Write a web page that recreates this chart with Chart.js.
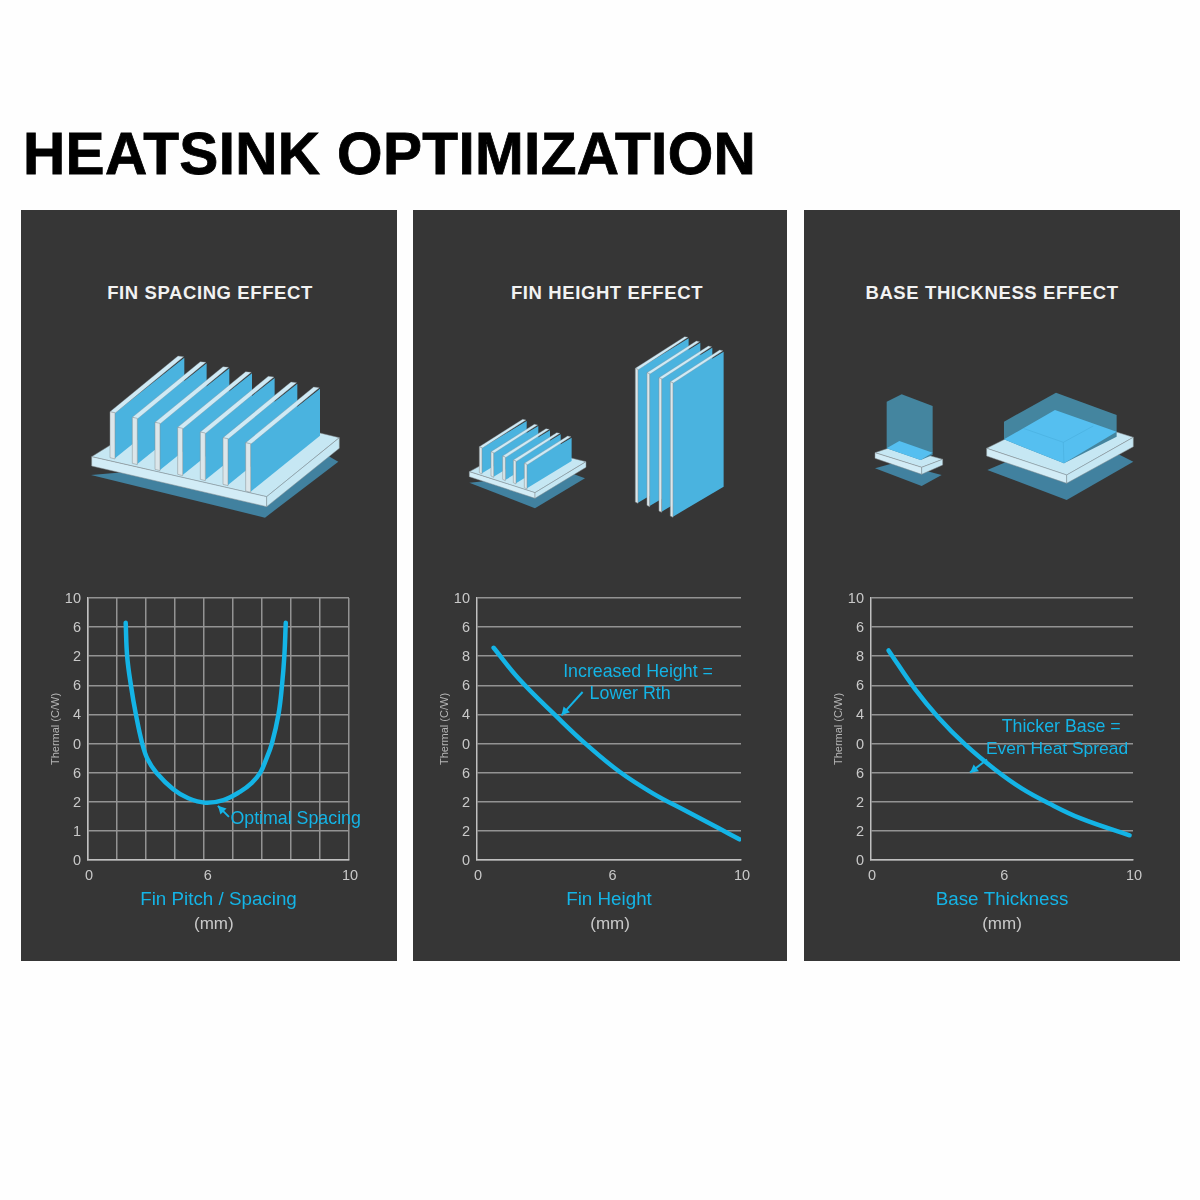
<!DOCTYPE html>
<html>
<head>
<meta charset="utf-8">
<title>Heatsink Optimization</title>
<script src="https://cdn.jsdelivr.net/npm/chart.js@4"></script>
<style>
  html, body { margin: 0; background: #fefefe; }
  #page { position: relative; width: 1200px; height: 1200px; overflow: hidden; font-family: "Liberation Sans", Arial, sans-serif; }
  h1 { position: absolute; left: 23px; top: 120px; margin: 0; font-size: 58.5px; line-height: 68px; letter-spacing: 0.35px; font-weight: bold; color: #000; white-space: nowrap; -webkit-text-stroke: 0.8px #000; }
  .panel { position: absolute; top: 210px; height: 751px; background: #363636; }
  .panelTitle { position: absolute; top: 282px; text-align: center; font-size: 18.5px; line-height: 22px; letter-spacing: 0.6px; font-weight: bold; color: #f2f2f2; white-space: nowrap; }
  canvas { position: absolute; top: 580px; }
  svg { position: absolute; left: 0; top: 0; }
</style>
</head>
<body>
<div id="page">
  <h1>HEATSINK OPTIMIZATION</h1>
  <div class="panel" style="left:21px;width:376px"></div>
  <div class="panel" style="left:413px;width:374px"></div>
  <div class="panel" style="left:804px;width:376px"></div>
  <div class="panelTitle" style="left:21px;width:378px">FIN SPACING EFFECT</div>
  <div class="panelTitle" style="left:413px;width:388px">FIN HEIGHT EFFECT</div>
  <div class="panelTitle" style="left:804px;width:376px">BASE THICKNESS EFFECT</div>
  <svg id="art" width="1200" height="1200"></svg>
  <canvas id="chart1" width="376" height="381" style="left:21px"></canvas>
  <canvas id="chart2" width="374" height="381" style="left:413px"></canvas>
  <canvas id="chart3" width="376" height="381" style="left:804px"></canvas>
</div>
<script>
// y axis reads bottom to top, positions on it are the grid rows 0-9
const spacingYLabels = ["0", "1", "2", "6", "0", "4", "6", "2", "6", "10"];
const heightYLabels = ["0", "2", "2", "6", "0", "4", "6", "8", "6", "10"];
const baseYLabels = ["0", "2", "2", "6", "0", "4", "6", "8", "6", "10"];

// the "6" sits a little right of its grid line in the first chart
const spacingXTicks = [0, 1, 2, 3, 4, 4.1, 5, 6, 7, 8, 9];
const spacingXLabels = ["0", "", "", "", "", "6", "", "", "", "", "10"];
const heightXTicks = [0, 5.1, 10];
const heightXLabels = ["0", "6", "10"];
const baseXTicks = [0, 5.05, 10];
const baseXLabels = ["0", "6", "10"];

const spacingX = [1.3, 1.35, 1.48, 1.65, 1.87, 2.06, 2.36, 2.94, 3.46, 4.04, 4.67, 5.25, 5.65, 5.94, 6.14, 6.34, 6.57, 6.69, 6.77, 6.82];
const spacingY = [8.15, 7.0, 6.0, 5.01, 4.0, 3.45, 3.0, 2.43, 2.12, 1.97, 2.06, 2.35, 2.65, 3.0, 3.45, 4.0, 5.01, 6.0, 7.0, 8.15];
const heightX = [0.63, 1.61, 3.06, 4.14, 5.4, 6.66, 7.92, 9.18, 9.94];
const heightY = [7.29, 6.2, 4.89, 3.97, 3.03, 2.29, 1.68, 1.08, 0.71];
const baseX = [0.67, 1.69, 2.58, 3.59, 4.73, 5.75, 6.76, 8.03, 9.87];
const baseY = [7.2, 5.86, 4.89, 3.97, 3.11, 2.46, 1.96, 1.42, 0.85];

const BLUE = "#14b4e6";
const LIGHT = "#c9c9c9";
const GRID = "#939393";
const FONT = '"Liberation Sans", Arial, sans-serif';

// text and arrows that sit on top of a chart, placed in axis units
function notesPlugin(notes) {
  return {
    id: "notes",
    afterDatasetsDraw(chart) {
      const ctx = chart.ctx;
      const sx = chart.scales.x;
      const sy = chart.scales.y;
      ctx.save();
      ctx.textAlign = "center";
      ctx.textBaseline = "middle";
      notes.texts.forEach((t) => {
        ctx.font = t.size + "px " + FONT;
        ctx.fillStyle = t.color;
        ctx.fillText(t.text, sx.getPixelForValue(t.x), sy.getPixelForValue(t.y) + 1);
      });
      notes.arrows.forEach((a) => {
        const x1 = sx.getPixelForValue(a.from[0]);
        const y1 = sy.getPixelForValue(a.from[1]);
        const x2 = sx.getPixelForValue(a.to[0]);
        const y2 = sy.getPixelForValue(a.to[1]);
        const ang = Math.atan2(y2 - y1, x2 - x1);
        ctx.strokeStyle = BLUE;
        ctx.fillStyle = BLUE;
        ctx.lineWidth = 2;
        ctx.beginPath();
        ctx.moveTo(x1, y1);
        ctx.lineTo(x2, y2);
        ctx.stroke();
        ctx.beginPath();
        ctx.moveTo(x2, y2);
        ctx.lineTo(x2 - 9 * Math.cos(ang - 0.5), y2 - 9 * Math.sin(ang - 0.5));
        ctx.lineTo(x2 - 9 * Math.cos(ang + 0.5), y2 - 9 * Math.sin(ang + 0.5));
        ctx.closePath();
        ctx.fill();
      });
      ctx.restore();
    },
  };
}

function makeChart(id, cfg) {
  new Chart(document.getElementById(id), {
    type: "line",
    data: {
      datasets: [
        {
          data: cfg.xs.map((x, i) => ({ x: x, y: cfg.ys[i] })),
          borderColor: BLUE,
          borderWidth: 4.5,
          borderCapStyle: "round",
          borderJoinStyle: "round",
          pointRadius: 0,
          tension: 0.4,
          fill: false,
        },
      ],
    },
    options: {
      responsive: false,
      animation: false,
      layout: { padding: { left: cfg.padLeft, right: cfg.padRight, top: 18, bottom: 0 } },
      plugins: { legend: { display: false }, tooltip: { enabled: false } },
      scales: {
        x: {
          type: "linear",
          min: cfg.xMin,
          max: cfg.xMax,
          afterBuildTicks: (scale) => {
            scale.ticks = cfg.xTicks.map((v) => ({ value: v }));
          },
          afterFit: (scale) => {
            scale.height = 101;
            scale.paddingLeft = 0;
            scale.paddingRight = 0;
          },
          grid: {
            display: cfg.xGrid,
            color: (c) => (Number.isInteger(c.tick.value) ? GRID : "transparent"),
            lineWidth: 1.5,
            drawTicks: false,
          },
          border: { display: true, color: "#c0c0c0", width: 1.5 },
          ticks: {
            color: LIGHT,
            font: { family: FONT, size: 14.5 },
            padding: 7,
            labelOffset: 1,
            autoSkip: false,
            maxRotation: 0,
            callback: (v) => cfg.xLabels[cfg.xTicks.indexOf(v)],
          },
          title: {
            display: true,
            text: cfg.xTitle,
            color: BLUE,
            font: { family: FONT, size: 18.8 },
            padding: { top: 0, bottom: 50 },
          },
        },
        y: {
          min: 0,
          max: 9,
          afterFit: (scale) => {
            scale.width = 39;
          },
          grid: { color: GRID, lineWidth: 1.5, drawTicks: false },
          border: { display: true, color: "#c0c0c0", width: 1.5 },
          ticks: {
            stepSize: 1,
            color: LIGHT,
            font: { family: FONT, size: 14.5 },
            padding: 7,
            labelOffset: 1,
            autoSkip: false,
            callback: (v) => cfg.yLabels[v],
          },
          title: {
            display: true,
            text: "Thermal (C/W)",
            color: "#b4b4b4",
            font: { family: FONT, size: 11 },
            padding: 0,
          },
        },
      },
    },
    plugins: [notesPlugin(cfg.notes)],
  });
}

makeChart("chart1", {
  xs: spacingX,
  ys: spacingY,
  xMin: 0,
  xMax: 9,
  xTicks: spacingXTicks,
  xLabels: spacingXLabels,
  yLabels: spacingYLabels,
  xGrid: true,
  xTitle: "Fin Pitch / Spacing",
  padLeft: 28,
  padRight: 48,
  notes: {
    texts: [
      { text: "Optimal Spacing", x: 7.16, y: 1.44, size: 17.8, color: BLUE },
      { text: "(mm)", x: 4.34, y: -2.16, size: 17, color: LIGHT },
    ],
    arrows: [{ from: [4.86, 1.48], to: [4.48, 1.86] }],
  },
});

makeChart("chart2", {
  xs: heightX,
  ys: heightY,
  xMin: 0,
  xMax: 10,
  xTicks: heightXTicks,
  xLabels: heightXLabels,
  yLabels: heightYLabels,
  xGrid: false,
  xTitle: "Fin Height",
  padLeft: 25,
  padRight: 46,
  notes: {
    texts: [
      { text: "Increased Height =", x: 6.1, y: 6.5, size: 17.8, color: BLUE },
      { text: "Lower Rth", x: 5.8, y: 5.74, size: 17.8, color: BLUE },
      { text: "(mm)", x: 5.04, y: -2.16, size: 17, color: LIGHT },
    ],
    arrows: [{ from: [4.0, 5.77], to: [3.2, 4.97] }],
  },
});

makeChart("chart3", {
  xs: baseX,
  ys: baseY,
  xMin: 0,
  xMax: 10,
  xTicks: baseXTicks,
  xLabels: baseXLabels,
  yLabels: baseYLabels,
  xGrid: false,
  xTitle: "Base Thickness",
  padLeft: 28,
  padRight: 47,
  notes: {
    texts: [
      { text: "Thicker Base =", x: 7.26, y: 4.59, size: 17.8, color: BLUE },
      { text: "Even Heat Spread", x: 7.1, y: 3.85, size: 17.4, color: BLUE },
      { text: "(mm)", x: 5.0, y: -2.16, size: 17, color: LIGHT },
    ],
    arrows: [{ from: [4.43, 3.45], to: [3.78, 3.0] }],
  },
});

// heatsink drawings above the charts, each group in its own 3x units
const EDGE = "#868d92";
const TOP = "#c6e7f3";
const FRONT = "#d2ecf6";
const SHADOW = "#41819f";
const FACE = "#4ab3df";
const POST = "#dbe6ea";

function poly(pts, fill, extra) {
  return '<polygon points="' + pts.map((p) => p.join(",")).join(" ") + '" fill="' + fill + '" ' + (extra || "") + "/>";
}

function fin(x, t, b, dx, dy, dyBottom, p) {
  let s = "";
  const q = x + p;
  s += poly([[q, t + 3], [q + dx, t + dy], [q + dx, b + dyBottom], [q, b]], FACE);
  s += poly([[x, t], [x + dx - 4, t + dy - 5], [q + dx - 2, t + dy - 3], [q, t + 5]], "#cfeaf5", 'stroke="' + EDGE + '" stroke-width="1"');
  s += poly([[x, t], [q, t + 3], [q, b + 2], [x, b - 2]], POST, 'stroke="' + EDGE + '" stroke-width="1.5"');
  return s;
}

function sink1() {
  let s = '<g transform="translate(80 340) scale(0.3333)">';
  s += poly([[33, 405], [555, 533], [775, 365], [740, 345]], SHADOW);
  s += poly([[35, 350], [310, 180], [778, 293], [560, 470]], TOP, 'stroke="' + EDGE + '" stroke-width="1.5"');
  s += poly([[35, 350], [560, 470], [560, 500], [35, 378]], FRONT, 'stroke="' + EDGE + '" stroke-width="1.5"');
  s += poly([[560, 470], [778, 293], [778, 325], [560, 500]], TOP, 'stroke="' + EDGE + '" stroke-width="1.5"');
  const xs = [95, 162, 230, 298, 366, 434, 502];
  const tops = [215, 232, 247, 262, 276, 293, 308];
  const bottoms = [355, 372, 390, 405, 420, 435, 455];
  xs.forEach((x, i) => {
    s += fin(x - 5, tops[i], bottoms[i], 208, -162, -168, 15);
  });
  return s + "</g>";
}

function sink2() {
  let s = '<g transform="translate(460 330) scale(0.3333)">';
  s += poly([[28, 458], [225, 535], [375, 445], [330, 428], [200, 440]], SHADOW);
  s += poly([[28, 425], [175, 345], [378, 395], [225, 488]], TOP, 'stroke="' + EDGE + '" stroke-width="1.5"');
  s += poly([[28, 425], [225, 488], [225, 505], [28, 440]], FRONT, 'stroke="' + EDGE + '" stroke-width="1.5"');
  s += poly([[225, 488], [378, 395], [378, 412], [225, 505]], TOP, 'stroke="' + EDGE + '" stroke-width="1.5"');
  const xs = [58, 93, 128, 160, 193];
  const tops = [350, 365, 378, 390, 400];
  const bottoms = [430, 440, 450, 460, 475];
  xs.forEach((x, i) => {
    s += fin(x, tops[i], bottoms[i], 134, -77, -82, 8);
  });
  const tallXs = [526, 561, 597, 631];
  const tallTops = [115, 128, 143, 155];
  const tallBottoms = [518, 528, 545, 560];
  tallXs.forEach((x, i) => {
    s += fin(x, tallTops[i], tallBottoms[i], 152, -90, -90, 8);
  });
  return s + "</g>";
}

function sink3() {
  let s = '<g transform="translate(860 380) scale(0.3333)">';
  const line = 'stroke="' + EDGE + '" stroke-width="1.5"';
  // small block
  s += poly([[45, 265], [105, 248], [245, 285], [185, 318]], SHADOW);
  s += poly([[45, 218], [105, 198], [248, 238], [185, 262]], TOP, line);
  s += poly([[45, 218], [185, 262], [185, 283], [45, 235]], FRONT, line);
  s += poly([[185, 262], [248, 238], [248, 255], [185, 283]], TOP, line);
  s += poly([[80, 65], [125, 43], [218, 78], [218, 225], [182, 240], [80, 205]], "#44859f");
  s += poly([[80, 205], [118, 183], [218, 218], [182, 240]], "#55bff0");
  // large block
  s += poly([[382, 270], [440, 245], [780, 225], [820, 245], [620, 360]], SHADOW);
  s += poly([[380, 205], [590, 100], [820, 172], [620, 285]], TOP, line);
  s += poly([[380, 205], [620, 285], [620, 310], [380, 228]], FRONT, line);
  s += poly([[620, 285], [820, 172], [820, 200], [620, 310]], TOP, line);
  s += poly([[432, 125], [588, 38], [770, 105], [770, 170], [612, 250], [432, 178]], "#44859f");
  s += poly([[432, 178], [490, 145], [585, 90], [770, 155], [612, 250]], "#55bff0");
  s += '<path d="M490 145 L610 187 L700 138 M610 187 L612 250" fill="none" stroke="#45a9d8" stroke-width="1.5"/>';
  return s + "</g>";
}

document.getElementById("art").innerHTML = sink1() + sink2() + sink3();
</script>
</body>
</html>
